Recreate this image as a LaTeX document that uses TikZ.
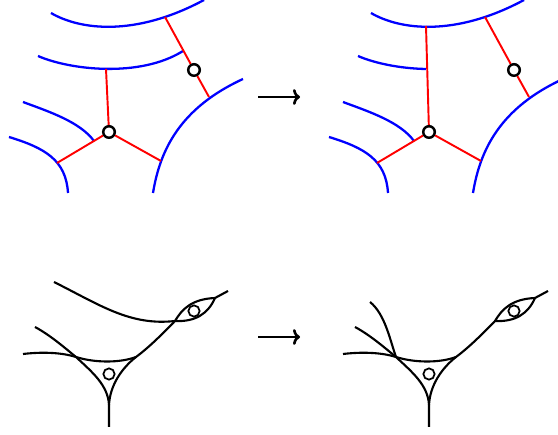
\documentclass[tikz,border=0pt]{standalone}
\usetikzlibrary{arrows.meta}

\begin{document}
\begin{tikzpicture}[x=0.02cm,y=-0.02cm,
  sheet/.style={blue,line width=1.3pt},
  seam/.style={red,line width=1.1pt},
  strand/.style={line width=1.2pt},
  hole/.style={circle,draw,fill=white,line width=1.4pt,inner sep=0pt,minimum size=6.6pt},
  smallhole/.style={hole,line width=1pt,minimum size=6.4pt},
  move/.style={-{To[length=4pt,width=9pt]},line width=1.5pt}]
  \path[use as bounding box] (0,0) rectangle (558,435);
  % Top left: level curves and the graph before the move.
  \begin{scope}
    \draw[sheet] (51,13) .. controls (80,30) and (135,37) .. (204,0);
    \draw[sheet] (38,56) .. controls (70,70) and (140,78) .. (183,51);
    \draw[sheet] (23,102) .. controls (50,112) and (80,122) .. (94,141);
    \draw[sheet] (9,137) .. controls (45,148) and (66,160) .. (68,193);
    \draw[sheet] (243,79) .. controls (180,108) and (160,150) .. (153,193);
    \coordinate (topL) at (165,17);
    \coordinate (lowL) at (209,97);
    \coordinate (midL) at (106,69);
    \coordinate (leftL) at (57,163);
    \coordinate (rightL) at (161,161);
    \node[hole] (hubL) at (109,132) {};
    \node[hole] (dotL) at (194,70) {};
    \draw[seam] (topL) -- (dotL) -- (lowL);
    \draw[seam] (hubL) -- (midL);
    \draw[seam] (hubL) -- (leftL);
    \draw[seam] (hubL) -- (rightL);
  \end{scope}

  \coordinate (fromT) at (258,97);
  \coordinate (toT) at (300,97);
  \draw[move] (fromT) -- (toT);

  % Top right: the middle edge now ends on the top curve.
  \begin{scope}[shift={(320,0)}]
    \draw[sheet] (51,13) .. controls (80,30) and (135,37) .. (204,0);
    \draw[sheet] (38,56) .. controls (54,63) and (79.5,68.5) .. (106,69);
    \draw[sheet] (23,102) .. controls (50,112) and (80,122) .. (94,141);
    \draw[sheet] (9,137) .. controls (45,148) and (66,160) .. (68,193);
    \draw[sheet] (243,79) .. controls (180,108) and (160,150) .. (153,193);
    \coordinate (topR) at (165,17);
    \coordinate (lowR) at (209,97);
    \coordinate (midR) at (106,26);
    \coordinate (leftR) at (57,163);
    \coordinate (rightR) at (161,161);
    \node[hole] (hubR) at (109,132) {};
    \node[hole] (dotR) at (194,70) {};
    \draw[seam] (topR) -- (dotR) -- (lowR);
    \draw[seam] (hubR) -- (midR);
    \draw[seam] (hubR) -- (leftR);
    \draw[seam] (hubR) -- (rightR);
  \end{scope}

  % Bottom left: fronts with a triangle and an eye.
  \begin{scope}
    \draw[strand] (54,282) .. controls (100,305) and (130,326) .. (175,321);
    \draw[strand] (35,327) .. controls (50,335) and (65,348) .. (76,357)
      .. controls (92,372) and (108,385) .. (109,405) -- (109,427);
    \draw[strand] (23,354) .. controls (40,352) and (60,352) .. (76,357)
      .. controls (95,363) and (120,363) .. (136,357)
      .. controls (152,345) and (165,331) .. (175,321)
      .. controls (182,309) and (192,299) .. (215,298) -- (228,291);
    \draw[strand] (109,405) .. controls (110,385) and (122,368) .. (136,357);
    \draw[strand] (175,321) .. controls (195,322) and (208,314) .. (215,298);
    \node[smallhole] (cellL) at (109,374) {};
    \node[smallhole] (eyeL) at (194,311) {};
  \end{scope}

  \coordinate (fromB) at (258,337);
  \coordinate (toB) at (300,337);
  \draw[move] (fromB) -- (toB);

  % Bottom right: the long strand is pulled into the left corner.
  \begin{scope}[shift={(320,0)}]
    \draw[strand] (50,302) .. controls (65,314) and (70,340) .. (76,357);
    \draw[strand] (35,327) .. controls (50,335) and (65,348) .. (76,357)
      .. controls (92,372) and (108,385) .. (109,405) -- (109,427);
    \draw[strand] (23,354) .. controls (40,352) and (60,352) .. (76,357)
      .. controls (95,363) and (120,363) .. (136,357)
      .. controls (152,345) and (165,331) .. (175,321)
      .. controls (182,309) and (192,299) .. (215,298) -- (228,291);
    \draw[strand] (109,405) .. controls (110,385) and (122,368) .. (136,357);
    \draw[strand] (175,321) .. controls (195,322) and (208,314) .. (215,298);
    \node[smallhole] (cellR) at (109,374) {};
    \node[smallhole] (eyeR) at (194,311) {};
  \end{scope}
\end{tikzpicture}
\end{document}
